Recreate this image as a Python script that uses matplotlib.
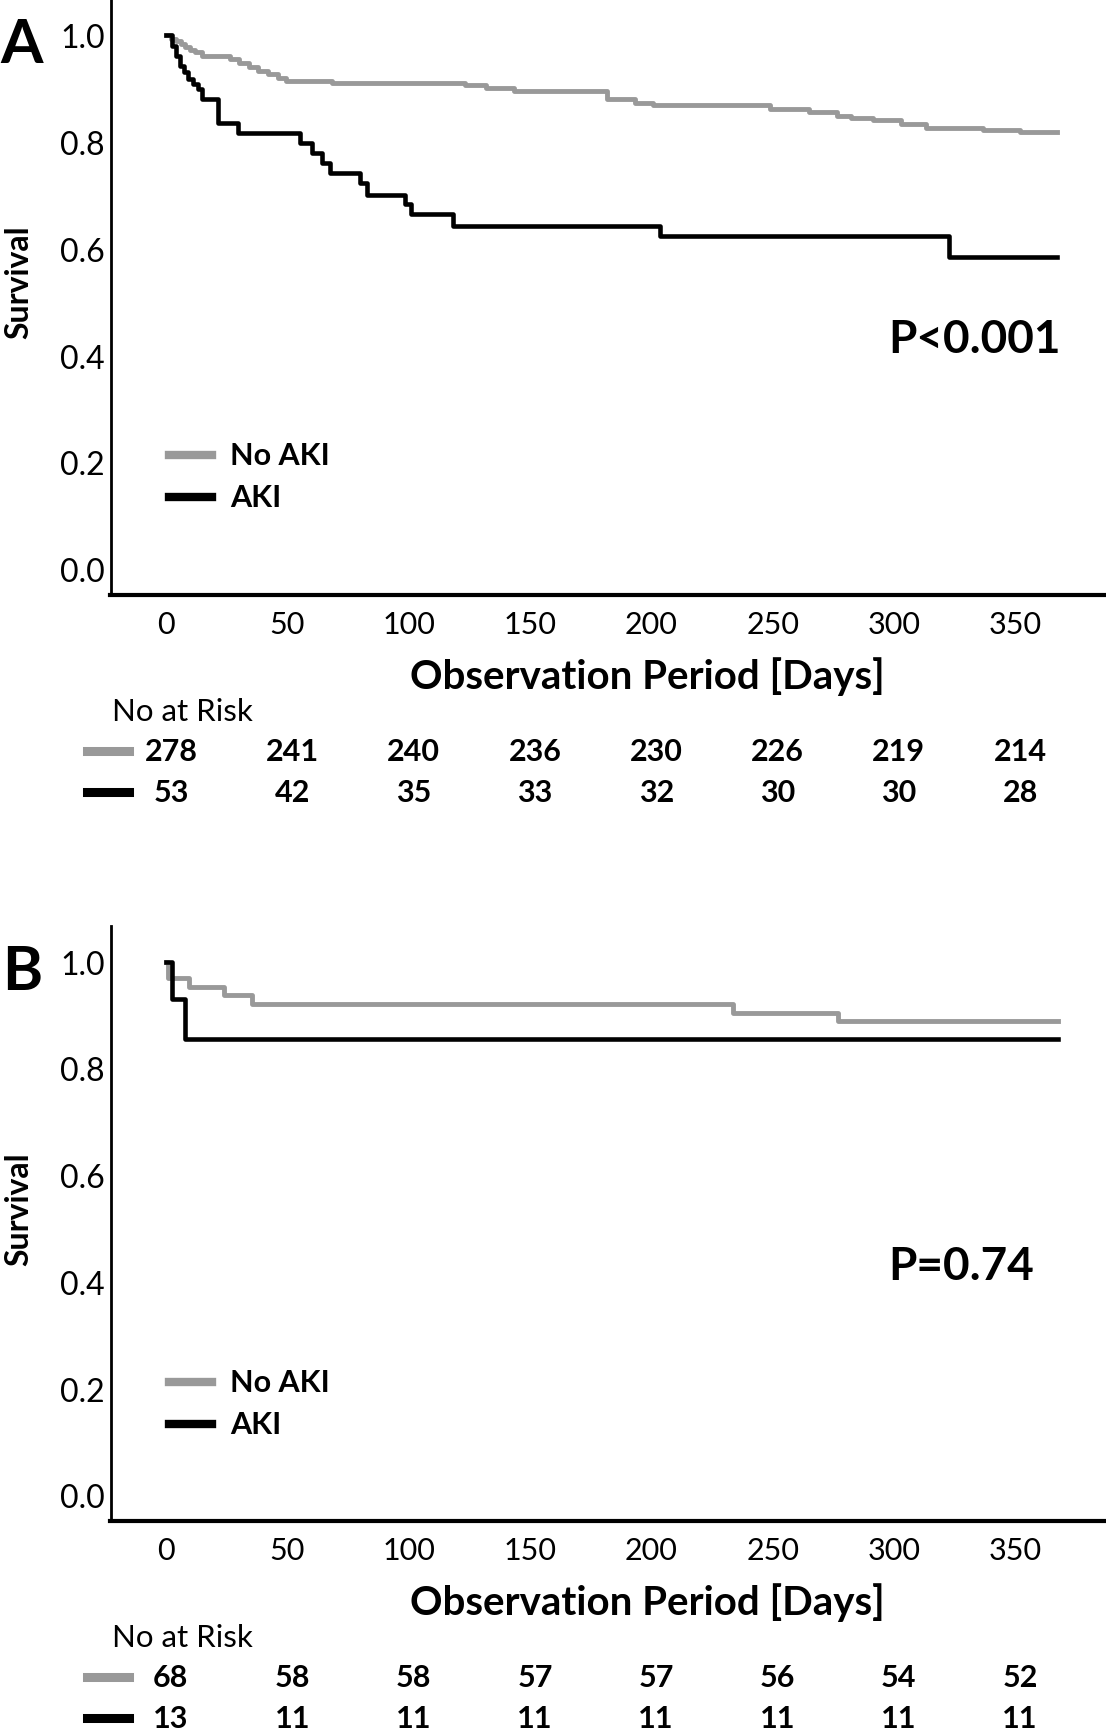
import matplotlib
matplotlib.use("Agg")
import matplotlib.pyplot as plt
from matplotlib.lines import Line2D
from matplotlib.transforms import blended_transform_factory

plt.rcParams['font.family'] = ['Lato', 'DejaVu Sans']

# ---- data ----
# panel A, Kaplan-Meier step points (day, survival)
a_noaki_t = [0, 2, 4, 6, 8, 10, 12, 14.7, 26.3, 30, 34, 38, 42, 46, 49.4, 68.2,
             123.1, 131.8, 143.3, 181.6, 193.3, 200.6, 248.8, 264.9, 276.6,
             282.5, 291.3, 302.9, 313.2, 336.6, 351.9, 367.2]
a_noaki_s = [1.0, 0.993, 0.988, 0.983, 0.978, 0.972, 0.967, 0.960, 0.955, 0.948,
             0.940, 0.932, 0.926, 0.919, 0.913, 0.910, 0.907, 0.901, 0.895, 0.880,
             0.873, 0.868, 0.861, 0.856, 0.849, 0.845, 0.841, 0.834, 0.826, 0.821,
             0.818, 0.818]
a_aki_t = [0, 2.3, 4, 5.8, 7.5, 9.2, 11, 13.3, 14.7, 21.6, 29.8, 55.2, 60, 64.1,
           67.6, 79.9, 82.7, 98.6, 100.8, 118.1, 203.5, 322.6, 367.2]
a_aki_s = [1.0, 0.979, 0.96, 0.941, 0.93, 0.917, 0.908, 0.898, 0.879, 0.835, 0.816,
           0.798, 0.779, 0.760, 0.742, 0.723, 0.701, 0.683, 0.664, 0.642, 0.624,
           0.584, 0.584]

# panel B
b_noaki_t = [0, 1, 9.5, 24, 35.6, 233.8, 276.9, 367.5]
b_noaki_s = [1.0, 0.969, 0.953, 0.937, 0.920, 0.904, 0.889, 0.889]
b_aki_t = [0, 2.5, 7.7, 367.5]
b_aki_s = [1.0, 0.93, 0.855, 0.855]

risk_days = [0, 50, 100, 150, 200, 250, 300, 350]
a_risk_noaki = [278, 241, 240, 236, 230, 226, 219, 214]
a_risk_aki = [53, 42, 35, 33, 32, 30, 30, 28]
b_risk_noaki = [68, 58, 58, 57, 57, 56, 54, 52]
b_risk_aki = [13, 11, 11, 11, 11, 11, 11, 11]

GRAY = "#999999"
W, H = 1106, 1733
fig = plt.figure(figsize=(W / 100, H / 100), dpi=100)


def fx(px):
    return px / W


def fy(py):
    return 1 - py / H


def panel(top, bottom, letter, noaki, aki, risk_noaki, risk_aki, ptext):
    ax = fig.add_axes([fx(110.5), fy(bottom), fx(W - 110.5), (bottom - top) / H])
    ax.step(noaki[0], noaki[1], where="post", color=GRAY, lw=3.5, zorder=3)
    ax.step(aki[0], aki[1], where="post", color="black", lw=3.3, zorder=4)
    ax.set_xlim(-22.9, 387.4)
    ax.set_ylim(-0.048, 1.067)
    ax.set_xticks(risk_days)
    ax.set_yticks([0.0, 0.2, 0.4, 0.6, 0.8, 1.0])
    ax.set_yticklabels(["0.0", "0.2", "0.4", "0.6", "0.8", "1.0"])
    ax.tick_params(length=0, pad=8)
    ax.tick_params(axis="y", labelsize=23, pad=4)
    ax.tick_params(axis="x", labelsize=22, pad=11)
    for s in ("top", "right"):
        ax.spines[s].set_visible(False)
    ax.spines["left"].set_linewidth(2)
    ax.spines["bottom"].set_linewidth(3)

    # labels
    fig.text(fx(22), fy(top + 45), letter, fontsize=44, fontweight="bold",
             ha="center", va="center")
    fig.text(fx(19), fy(top + 282), "Survival", fontsize=23, fontweight="bold",
             rotation=90, ha="center", va="center")
    fig.text(fx(647), fy(bottom + 81), "Observation Period [Days]", fontsize=29,
             fontweight="bold", ha="center", va="center")
    fig.text(fx(888), fy(top + 340), ptext, fontsize=33, fontweight="bold",
             ha="left", va="center")

    # legend
    for dy, col, lab in ((456, GRAY, "No AKI"), (498, "black", "AKI")):
        fig.add_artist(Line2D([fx(169), fx(212)], [fy(top + dy), fy(top + dy)],
                              color=col, lw=6))
        fig.text(fx(230), fy(top + dy), lab, fontsize=22, fontweight="bold",
                 ha="left", va="center")

    # number at risk table
    fig.text(fx(112), fy(bottom + 116), "No at Risk", fontsize=22.5,
             ha="left", va="center")
    tr = blended_transform_factory(ax.transData, fig.transFigure)
    for dy, col, vals in ((156, GRAY, risk_noaki), (197, "black", risk_aki)):
        fig.add_artist(Line2D([fx(87), fx(129)], [fy(bottom + dy), fy(bottom + dy)],
                              color=col, lw=6.5))
        for d, v in zip(risk_days, vals):
            ax.text(d + 2, fy(bottom + dy), str(v), transform=tr, fontsize=22,
                    fontweight="bold", ha="center", va="center", clip_on=False)
    return ax


panel(0, 596, "A", (a_noaki_t, a_noaki_s), (a_aki_t, a_aki_s),
      a_risk_noaki, a_risk_aki, "P<0.001")
panel(927, 1522, "B", (b_noaki_t, b_noaki_s), (b_aki_t, b_aki_s),
      b_risk_noaki, b_risk_aki, "P=0.74")

fig.savefig("out.png", dpi=100)
